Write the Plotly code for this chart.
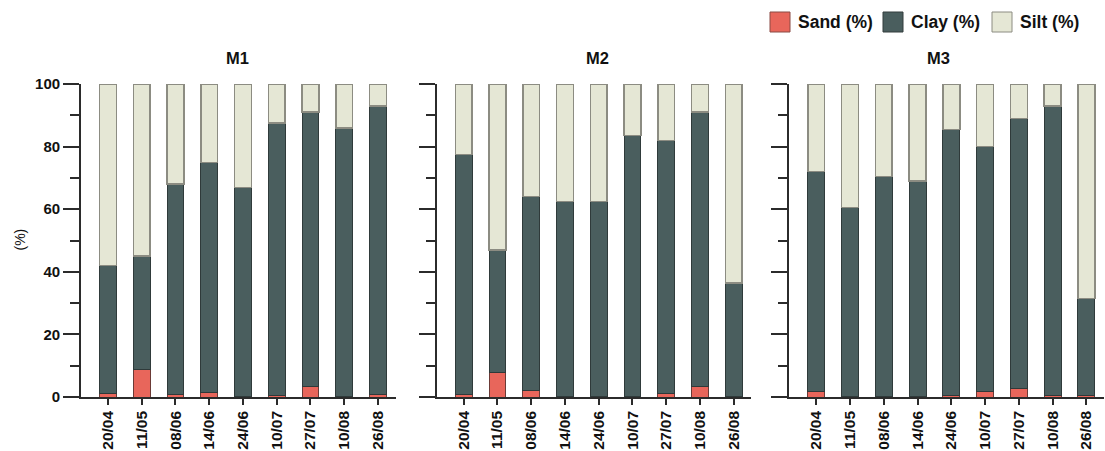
import plotly.graph_objects as go

# Sampling dates and sites
dates = ["20/04", "11/05", "08/06", "14/06", "24/06", "10/07", "27/07", "10/08", "26/08"]
sites = ["M1", "M2", "M3"]

# Sand fraction (%) per site
sand_m1 = [1.0, 8.8, 0.7, 1.4, 0.2, 0.5, 3.3, 0.3, 0.7]
sand_m2 = [0.7, 7.7, 2.1, 0.3, 0.3, 0.3, 1.0, 3.4, 0.3]
sand_m3 = [1.6, 0.3, 0.1, 0.1, 0.5, 1.6, 2.7, 0.5, 0.6]

# Clay fraction (%) per site
clay_m1 = [41.0, 36.2, 67.3, 73.6, 66.8, 87.0, 87.7, 85.7, 92.3]
clay_m2 = [76.8, 39.3, 61.9, 62.2, 62.2, 83.2, 81.0, 87.6, 36.2]
clay_m3 = [70.4, 60.2, 70.4, 68.9, 85.0, 78.4, 86.3, 92.5, 30.9]

# Silt fraction (%) per site
silt_m1 = [58.0, 55.0, 32.0, 25.0, 33.0, 12.5, 9.0, 14.0, 7.0]
silt_m2 = [22.5, 53.0, 36.0, 37.5, 37.5, 16.5, 18.0, 9.0, 63.5]
silt_m3 = [28.0, 39.5, 29.5, 31.0, 14.5, 20.0, 11.0, 7.0, 68.5]

sand = [sand_m1, sand_m2, sand_m3]
clay = [clay_m1, clay_m2, clay_m3]
silt = [silt_m1, silt_m2, silt_m3]

W, H = 1105, 451
SAND_C = "#E8665B"
CLAY_C = "#4A5E5E"
SILT_C = "#E5E7D5"
AXIS_C = "#2b2b2b"
TEXT_C = "#111111"
FONT = "Liberation Sans, Arial, sans-serif"

# panel extents in pixels (left edge at y-axis, right edge at end of x-axis)
panels_px = [(81, 395.5), (436.7, 751.3), (789.3, 1103.9)]
title_px = [237, 597, 938]
y_top_px, y_bot_px = 84, 397

fig = go.Figure()

for i in range(3):
    xa = "x" if i == 0 else f"x{i+1}"
    ya = "y" if i == 0 else f"y{i+1}"
    for vals, col, lc, lw, nm in [
        (sand[i], SAND_C, "#6b3a36", 1, "Sand (%)"),
        (clay[i], CLAY_C, "#2f3a3a", 1, "Clay (%)"),
        (silt[i], SILT_C, "#8c8c82", 1.5, "Silt (%)"),
    ]:
        fig.add_trace(go.Bar(
            x=dates, y=vals, name=nm, xaxis=xa, yaxis=ya,
            marker=dict(color=col, line=dict(color=lc, width=lw)),
            width=0.5, showlegend=False,
        ))

    x0, x1 = panels_px[i]
    xkey = "xaxis" if i == 0 else f"xaxis{i+1}"
    ykey = "yaxis" if i == 0 else f"yaxis{i+1}"
    fig.layout[xkey] = dict(
        domain=[x0 / W, x1 / W], anchor=ya, range=[-0.8, 8.52],
        type="category", showline=True, linecolor=AXIS_C, linewidth=1.5,
        ticks="outside", ticklen=6, tickwidth=1.5, tickcolor=AXIS_C,
        tickangle=-90, showgrid=False, zeroline=False,
        tickfont=dict(family=FONT, size=15.5, color=TEXT_C, weight="bold"),
        automargin=False,
    )
    fig.layout[ykey] = dict(
        domain=[(H - y_bot_px) / H, (H - y_top_px) / H], anchor=xa,
        range=[0, 100], showline=True, linecolor=AXIS_C, linewidth=1.8,
        tickmode="linear", tick0=0, dtick=20,
        ticks="outside", ticklen=16, tickwidth=1.8, tickcolor=AXIS_C,
        minor=dict(tickmode="linear", tick0=0, dtick=10, ticks="outside",
                   ticklen=9, tickwidth=1.8, tickcolor=AXIS_C, showgrid=False),
        showticklabels=(i == 0), showgrid=False, zeroline=False,
        tickfont=dict(family=FONT, size=15, color=TEXT_C, weight="bold"),
        automargin=False,
    )
    fig.add_annotation(
        x=title_px[i] / W, y=(H - 58) / H, xref="paper", yref="paper",
        xanchor="center", yanchor="middle",
        text=sites[i], showarrow=False,
        font=dict(family=FONT, size=16.5, color=TEXT_C, weight="bold"),
    )

# y-axis title
fig.add_annotation(
    x=19.5 / W, y=(H - 240) / H, xref="paper", yref="paper", text="(%)",
    xanchor="center", yanchor="middle",
    textangle=-90, showarrow=False, font=dict(family=FONT, size=14, color=TEXT_C),
)

# legend swatches and labels
legend_items = [("Sand (%)", SAND_C, "#8a4a44", 770), ("Clay (%)", CLAY_C, "#333d3d", 883),
                ("Silt (%)", SILT_C, "#8c8c82", 992)]
for label, col, lc, xs in legend_items:
    fig.add_shape(type="rect", xref="paper", yref="paper",
                  x0=xs / W, x1=(xs + 20) / W, y0=(H - 32) / H, y1=(H - 12) / H,
                  fillcolor=col, line=dict(color=lc, width=1))
    fig.add_annotation(x=(xs + 26) / W, y=(H - 22) / H, xref="paper", yref="paper",
                       xanchor="left", yanchor="middle", text=label, showarrow=False,
                       font=dict(family=FONT, size=17.5, color=TEXT_C, weight="bold"))

fig.update_layout(
    barmode="stack", width=W, height=H,
    margin=dict(l=0, r=0, t=0, b=0),
    plot_bgcolor="white", paper_bgcolor="white",
    font=dict(family=FONT),
)

fig.write_html("out.html")
